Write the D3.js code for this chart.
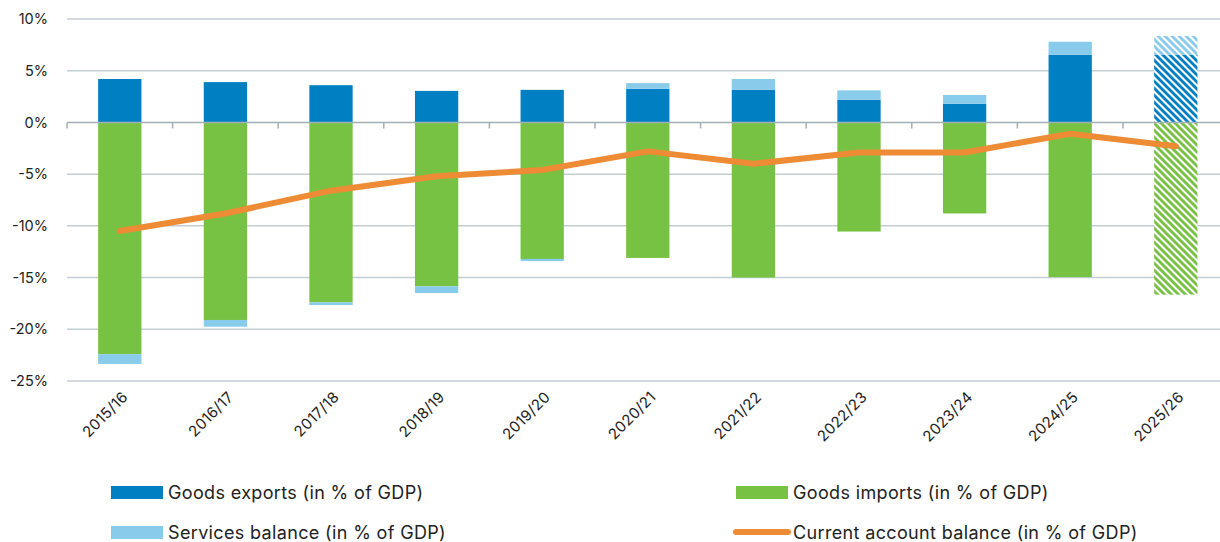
<!DOCTYPE html>
<html>
<head>
<meta charset="utf-8">
<script src="https://cdn.jsdelivr.net/npm/d3@7"></script>
<style>
  body { margin: 0; background: #fff; }
  svg { display: block; font-family: "Inter", "Noto Sans", sans-serif; }
</style>
</head>
<body>
<div id="chart"></div>
<script>
// Trade components and current account balance, % of GDP
var categories = ['2015/16', '2016/17', '2017/18', '2018/19', '2019/20', '2020/21',
                  '2021/22', '2022/23', '2023/24', '2024/25', '2025/26'];
var goodsExports = [4.2, 3.9, 3.6, 3.05, 3.15, 3.25, 3.15, 2.2, 1.8, 6.55, 6.55];
var goodsImports = [-22.4, -19.1, -17.4, -15.85, -13.2, -13.1, -15.0, -10.55, -8.8, -14.95, -16.65];
var servicesBalance = [-0.95, -0.65, -0.25, -0.65, -0.2, 0.55, 1.05, 0.9, 0.85, 1.25, 1.8];
var currentAccount = [-10.5, -8.8, -6.6, -5.2, -4.6, -2.8, -4.0, -2.9, -2.9, -1.1, -2.3];
var projected = ['2025/26'];
var yTicks = [10, 5, 0, -5, -10, -15, -20, -25];

var colors = { exports: '#0080c3', imports: '#77c243', services: '#88cbea', balance: '#ee8b35' };

var width = 1220, height = 542;
var margin = { top: 19, left: 67 };
var plotBottom = 381;
var plotRight = 1228.6;

var svg = d3.select('#chart').append('svg')
    .attr('width', width)
    .attr('height', height);

var x = d3.scaleBand().domain(categories).range([margin.left, plotRight]).paddingInner(0.59).paddingOuter(0.295);
var y = d3.scaleLinear().domain([-25, 10]).range([plotBottom, margin.top]);

// hatch patterns for projected year ("\" stripes)
var defs = svg.append('defs');
function hatch(id, color) {
    var p = defs.append('pattern')
        .attr('id', id)
        .attr('patternUnits', 'userSpaceOnUse')
        .attr('width', 7).attr('height', 7);
    p.append('rect').attr('width', 7).attr('height', 7).attr('fill', '#fff');
    p.append('path')
        .attr('d', 'M0,0L4,0L7,3L7,7Z M0,3L4,7L0,7Z')
        .attr('fill', color);
}
hatch('hatch-exports', colors.exports);
hatch('hatch-imports', colors.imports);
hatch('hatch-services', colors.services);

// gridlines
svg.append('g')
    .selectAll('line')
    .data(yTicks.filter(function (d) { return d !== 0; }))
    .join('line')
    .attr('x1', margin.left).attr('x2', width)
    .attr('y1', function (d) { return y(d); })
    .attr('y2', function (d) { return y(d); })
    .attr('stroke', '#c4cdd3')
    .attr('stroke-width', 1.5);

// y axis labels
svg.append('g')
    .selectAll('text')
    .data(yTicks)
    .join('text')
    .attr('x', 48)
    .attr('y', function (d) { return y(d); })
    .attr('dy', '0.35em')
    .attr('text-anchor', 'end')
    .attr('font-size', 14.5)
    .attr('fill', '#222')
    .text(function (d) { return (d < 0 ? '-' + Math.abs(d) : d) + '%'; });

// build stacked rows
var rows = categories.map(function (c, i) {
    var s = servicesBalance[i];
    var base = s >= 0 ? goodsExports[i] : goodsImports[i];
    return {
        cat: c,
        proj: projected.indexOf(c) >= 0,
        parts: [
            { key: 'exports', y0: 0, y1: goodsExports[i] },
            { key: 'imports', y0: 0, y1: goodsImports[i] },
            { key: 'services', y0: base, y1: base + s }
        ]
    };
});

var bars = svg.append('g');
rows.forEach(function (r) {
    bars.selectAll(null)
        .data(r.parts)
        .enter().append('rect')
        .attr('x', x(r.cat))
        .attr('width', x.bandwidth())
        .attr('y', function (d) { return y(Math.max(d.y0, d.y1)); })
        .attr('height', function (d) { return Math.abs(y(d.y0) - y(d.y1)); })
        .attr('fill', function (d) { return r.proj ? 'url(#hatch-' + d.key + ')' : colors[d.key]; });
});

// zero line with ticks at band boundaries
var zero = svg.append('g');
zero.append('line')
    .attr('x1', margin.left).attr('x2', width)
    .attr('y1', y(0)).attr('y2', y(0))
    .attr('stroke', '#a3aeb5').attr('stroke-width', 1.5);
var step = x.step();
zero.selectAll('.tk')
    .data(d3.range(categories.length))
    .join('line')
    .attr('class', 'tk')
    .attr('x1', function (i) { return x(categories[i]) - x.paddingOuter() * step; })
    .attr('x2', function (i) { return x(categories[i]) - x.paddingOuter() * step; })
    .attr('y1', y(0)).attr('y2', y(0) + 6)
    .attr('stroke', '#a3aeb5').attr('stroke-width', 1.5);

// current account line
var line = d3.line()
    .x(function (d, i) { return x(categories[i]) + x.bandwidth() / 2; })
    .y(function (d) { return y(d); });

svg.append('path')
    .datum(currentAccount)
    .attr('d', line)
    .attr('fill', 'none')
    .attr('stroke', colors.balance)
    .attr('stroke-width', 6)
    .attr('stroke-linecap', 'round')
    .attr('stroke-linejoin', 'round');

// x labels
svg.append('g')
    .selectAll('text')
    .data(categories)
    .join('text')
    .attr('transform', function (d) {
        return 'translate(' + (x(d) + x.bandwidth() / 2 + 9) + ',' + 398 + ') rotate(-45)';
    })
    .attr('text-anchor', 'end')
    .attr('font-size', 15)
    .attr('letter-spacing', 0.3)
    .attr('fill', '#222')
    .text(function (d) { return d; });

// legend
var legendItems = [
    { label: 'Goods exports (in % of GDP)', key: 'exports', type: 'rect', x: 111, y: 486 },
    { label: 'Services balance (in % of GDP)', key: 'services', type: 'rect', x: 111, y: 526 },
    { label: 'Goods imports (in % of GDP)', key: 'imports', type: 'rect', x: 736, y: 486 },
    { label: 'Current account balance (in % of GDP)', key: 'balance', type: 'line', x: 736, y: 526 }
];
var lg = svg.append('g').selectAll('g').data(legendItems).join('g')
    .attr('transform', function (d) { return 'translate(' + d.x + ',' + d.y + ')'; });
lg.filter(function (d) { return d.type === 'rect'; })
    .append('rect')
    .attr('width', 52).attr('height', 13)
    .attr('fill', function (d) { return colors[d.key]; });
lg.filter(function (d) { return d.type === 'line'; })
    .append('line')
    .attr('x1', 0).attr('x2', 52).attr('y1', 6).attr('y2', 6)
    .attr('stroke', function (d) { return colors[d.key]; })
    .attr('stroke-width', 6)
    .attr('stroke-linecap', 'round');
lg.append('text')
    .attr('x', 57)
    .attr('y', 12.5)
    .attr('font-size', 18)
    .attr('letter-spacing', 0.35)
    .attr('fill', '#222')
    .text(function (d) { return d.label; });
</script>
</body>
</html>
